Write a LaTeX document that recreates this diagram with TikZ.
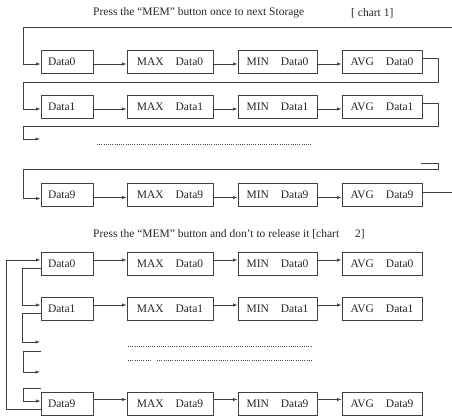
\documentclass[tikz,border=0pt]{standalone}
\usepackage{fontspec}
\setmainfont{Liberation Serif}
\usetikzlibrary{arrows.meta,calc}
\newcommand\gp{\hspace{12pt}}
\begin{document}
\begin{tikzpicture}[x=1pt,y=-1pt,
  txt/.style={font=\fontsize{11.5}{13}\selectfont, text=black!85, inner sep=0pt},
  box/.style={txt, draw=black!75, line width=0.7pt, minimum height=23pt, inner sep=0pt},
  dbox/.style={box, text width=38pt, inner xsep=7pt, align=left},
  bmax/.style={box, minimum width=86pt},
  bmin/.style={box, minimum width=79pt},
  bavg/.style={box, minimum width=80pt},
  ln/.style={draw=black!75, line width=0.7pt},
  arr/.style={ln, -{Latex[length=4.5pt,width=3.2pt]}},
  dots/.style={draw=black!70, line width=0.8pt, dash pattern=on 0.9pt off 1.3pt}]
\useasboundingbox (0,0) rectangle (452,415);

% ---------- titles ----------
\node[txt, anchor=west] (t1) at (93,13) {Press the “MEM” button once to next Storage};
\node[txt, anchor=west] (c1) at (351,13) {[ chart 1]};
\node[txt, anchor=west] (t2) at (93,234) {Press the “MEM” button and don’t to release it [chart\hspace{16pt}2]};

% ---------- chart 1 ----------
\foreach \r/\y in {0/61.5, 1/106.5, 9/195}{
  \node[dbox] (a\r) at (67,\y) {Data\r};
  \node[bmax] (b\r) at (170,\y) {MAX\gp Data\r};
  \node[bmin] (c\r) at (277.5,\y) {MIN\gp Data\r};
  \node[bavg] (d\r) at (382,\y) {AVG\gp Data\r};
  \draw[arr] ([yshift=-2.5pt]a\r.east) -- ([yshift=-2.5pt]b\r.west);
  \draw[arr] ([yshift=-2.5pt]b\r.east) -- ([yshift=-2.5pt]c\r.west);
  \draw[arr] ([yshift=-2.5pt]c\r.east) -- ([yshift=-2.5pt]d\r.west);
}
\coordinate (top) at (452,27);
\draw[arr] (top) -- (23,27) |- ([yshift=-2.5pt]a0.west);
\draw[arr] ([yshift=3.5pt]d0.east) -- ++(16,0) |- (23,82) |- ([yshift=-2.5pt]a1.west);
\coordinate (e1) at (40,139);
\draw[arr] ([yshift=3.5pt]d1.east) -- ++(16,0) |- (23,126) |- (e1);
\draw[dots] (97,144) -- (312,144);
\coordinate (s9) at (421,163);
\draw[arr] (s9) -- ++(17,0) |- (23,169) |- ([yshift=-3.5pt]a9.west);
\coordinate (x9) at (452,192);
\draw[ln] ([yshift=3pt]d9.east) -- (d9.east |- x9) -- (x9);

% ---------- chart 2 ----------
\foreach \r/\y in {0/264, 1/309, 9/403.5}{
  \node[dbox] (p\r) at (67,\y) {Data\r};
  \node[bmax] (q\r) at (170,\y) {MAX\gp Data\r};
  \node[bmin] (u\r) at (277.5,\y) {MIN\gp Data\r};
  \node[bavg] (v\r) at (382,\y) {AVG\gp Data\r};
  \draw[arr] ([yshift=4pt]p\r.east) -- ([yshift=4pt]q\r.west);
  \draw[arr] ([yshift=4pt]q\r.east) -- ([yshift=4pt]u\r.west);
  \draw[arr] ([yshift=4pt]u\r.east) -- ([yshift=4pt]v\r.west);
}
\draw[arr] ([yshift=-5.5pt]p9.west) -- ++(-34,0) |- ([yshift=4pt]p0.west);
\draw[arr] ([yshift=-4pt]p0.west) -- ++(-18,0) |- ([yshift=4pt]p1.west);
\coordinate (e2) at (40,342);
\draw[arr] ([yshift=-4pt]p1.west) -- ++(-18,0) |- (e2);
\coordinate (s2) at (41,351);
\coordinate (e3) at (40,372);
\draw[arr] (s2) -- ++(-18,0) |- (e3);
\coordinate (s3) at (41,388);
\draw[arr] (s3) -- ++(-18,0) |- ([yshift=2.5pt]p9.west);
\draw[dots] (128,346) -- (312,346);
\draw[dots] (128,360) -- (151,360);
\draw[dots] (157,360) -- (312,360);
\end{tikzpicture}
\end{document}
